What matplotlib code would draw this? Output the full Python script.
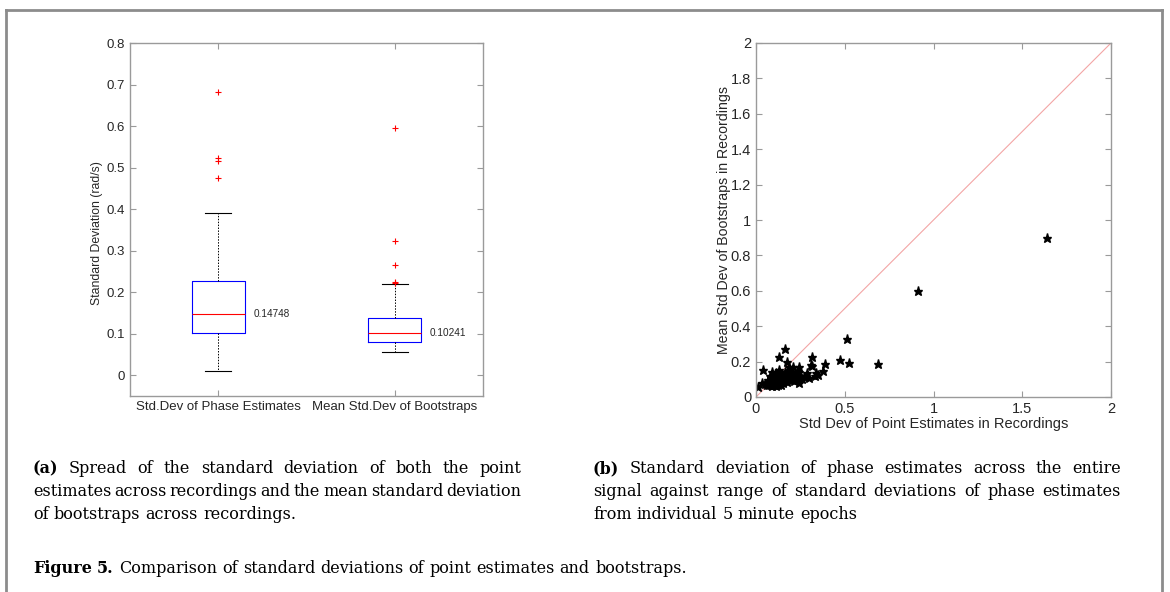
import matplotlib
matplotlib.use("Agg")
import matplotlib.pyplot as plt
import matplotlib.transforms as mtransforms

# ---- data ----
box_labels = ["Std.Dev of Phase Estimates", "Mean Std.Dev of Bootstraps"]
box_median = [0.14748, 0.10241]
box_q1 = [0.101, 0.081]
box_q3 = [0.228, 0.138]
box_whislo = [0.011, 0.055]
box_whishi = [0.390, 0.219]
box_fliers = [[0.683, 0.522, 0.515, 0.474],
              [0.595, 0.323, 0.265, 0.224, 0.221]]

scatter_x = [1.638, 0.911, 0.686, 0.524, 0.515, 0.473, 0.389, 0.376, 0.338, 0.332,
             0.314, 0.314, 0.289, 0.272, 0.240, 0.240, 0.240, 0.242, 0.208, 0.188,
             0.176, 0.163, 0.128, 0.041, 0.010, 0.032, 0.308, 0.350, 0.300, 0.260,
             0.050, 0.060, 0.065, 0.070, 0.075, 0.080, 0.082, 0.085, 0.088, 0.090,
             0.092, 0.095, 0.098, 0.100, 0.100, 0.102, 0.105, 0.108, 0.110, 0.112,
             0.115, 0.118, 0.120, 0.122, 0.125, 0.128, 0.130, 0.133, 0.135, 0.140,
             0.142, 0.145, 0.150, 0.152, 0.155, 0.160, 0.165, 0.170, 0.175, 0.180,
             0.185, 0.190, 0.195, 0.200, 0.205, 0.210, 0.215, 0.220, 0.225, 0.230,
             0.090, 0.105, 0.115, 0.125, 0.140, 0.150, 0.170, 0.195, 0.080, 0.110]
scatter_y = [0.900, 0.599, 0.185, 0.194, 0.326, 0.207, 0.185, 0.149, 0.134, 0.120,
             0.175, 0.224, 0.134, 0.115, 0.171, 0.140, 0.120, 0.077, 0.171, 0.171,
             0.200, 0.270, 0.224, 0.153, 0.058, 0.081, 0.180, 0.125, 0.110, 0.100,
             0.075, 0.070, 0.085, 0.095, 0.065, 0.080, 0.105, 0.070, 0.090, 0.060,
             0.120, 0.075, 0.085, 0.095, 0.065, 0.110, 0.080, 0.070, 0.135, 0.090,
             0.075, 0.100, 0.085, 0.065, 0.120, 0.095, 0.150, 0.080, 0.110, 0.090,
             0.070, 0.130, 0.100, 0.080, 0.115, 0.090, 0.140, 0.105, 0.085, 0.120,
             0.100, 0.150, 0.110, 0.095, 0.125, 0.105, 0.090, 0.115, 0.130, 0.100,
             0.140, 0.130, 0.095, 0.105, 0.120, 0.085, 0.125, 0.140, 0.120, 0.060]

caption_a = ["(a) Spread of the standard deviation of both the point",
             "estimates across recordings and the mean standard deviation",
             "of bootstraps across recordings."]
caption_b = ["(b) Standard deviation of phase estimates across the entire",
             "signal against range of standard deviations of phase estimates",
             "from individual 5 minute epochs"]
caption_fig = "Figure 5. Comparison of standard deviations of point estimates and bootstraps."

SANS = ["Liberation Sans", "DejaVu Sans"]
SERIF = ["DejaVu Serif"]
TXT = "#262626"
SPINE = "#9a9a9a"

fig = plt.figure(figsize=(11.7, 5.92), dpi=100)


def matlab_axes(ax, size):
    for s in ax.spines.values():
        s.set_color(SPINE)
        s.set_linewidth(1.0)
    ax.tick_params(direction="in", top=True, right=True, length=4,
                   color=SPINE, labelcolor=TXT, labelsize=size)
    for lab in ax.get_xticklabels() + ax.get_yticklabels():
        lab.set_family(SANS)


# ---- (a) boxplot ----
ax1 = fig.add_axes([130 / 1170, 1 - 396 / 592, 353 / 1170, 353 / 592])
stats = []
for i in range(2):
    stats.append(dict(med=box_median[i], q1=box_q1[i], q3=box_q3[i],
                      whislo=box_whislo[i], whishi=box_whishi[i],
                      fliers=box_fliers[i], label=box_labels[i]))
ax1.bxp(stats, positions=[1, 2], widths=0.3, showfliers=True,
        boxprops=dict(color="#0000ff", linewidth=0.8),
        medianprops=dict(color="#ff0000", linewidth=0.8),
        whiskerprops=dict(color="black", linewidth=0.7, linestyle=(0, (1.5, 1.5))),
        capprops=dict(color="black", linewidth=0.8),
        capwidths=0.15,
        flierprops=dict(marker="+", markeredgecolor="#ff0000", markersize=4,
                        markeredgewidth=0.8, linestyle="none"))
for i in range(2):
    ax1.text(i + 1.2, box_median[i], "%.5f" % box_median[i], fontsize=7.2,
             color=TXT, va="center", ha="left", family=SANS)
ax1.set_xlim(0.5, 2.5)
ax1.set_ylim(-0.05, 0.8)
ax1.set_yticks([0, 0.1, 0.2, 0.3, 0.4, 0.5, 0.6, 0.7, 0.8])
ax1.set_yticklabels(["0", "0.1", "0.2", "0.3", "0.4", "0.5", "0.6", "0.7", "0.8"])
ax1.set_ylabel("Standard Deviation (rad/s)", fontsize=8.8, color=TXT, family=SANS)
ax1.yaxis.set_label_coords((103 - 130) / 353, (396 - 233) / 353)
matlab_axes(ax1, 9.5)

# ---- (b) scatter ----
ax2 = fig.add_axes([756 / 1170, 1 - 397 / 592, 355 / 1170, 354 / 592])
ax2.plot([0, 2], [0, 2], color="#f3a5a5", linewidth=0.8)
ax2.plot(scatter_x, scatter_y, linestyle="none", marker="*", color="black",
         markersize=6.5)
ax2.set_xlim(0, 2)
ax2.set_ylim(0, 2)
ax2.set_xticks([0, 0.5, 1, 1.5, 2])
ax2.set_xticklabels(["0", "0.5", "1", "1.5", "2"])
ax2.set_yticks([0, 0.2, 0.4, 0.6, 0.8, 1, 1.2, 1.4, 1.6, 1.8, 2])
ax2.set_yticklabels(["0", "0.2", "0.4", "0.6", "0.8", "1", "1.2", "1.4",
                     "1.6", "1.8", "2"])
ax2.set_xlabel("Std Dev of Point Estimates in Recordings", fontsize=10.5,
               color=TXT, family=SANS, labelpad=1)
ax2.set_ylabel("Mean Std Dev of Bootstraps in Recordings", fontsize=10.2,
               color=TXT, family=SANS, labelpad=0)
matlab_axes(ax2, 10.5)

# ---- page frame ----
H = 592
frame = dict(color="#8c8c8c", linewidth=2, transform=None)
fig.add_artist(plt.Line2D([6, 6], [H - 10, -5], **frame))
fig.add_artist(plt.Line2D([6, 1162], [H - 10, H - 10], **frame))
fig.add_artist(plt.Line2D([1162, 1162], [H - 10, -5], **frame))

# ---- captions (justified by hand) ----
ident = mtransforms.IdentityTransform()
renderer = fig.canvas.get_renderer()
CAP_FS = 11.5


def put_line(x0, x1, y, line, justify, bold_n=0):
    words = line.split(" ")
    texts = []
    for k, w in enumerate(words):
        t = fig.text(0, H - y, w, fontsize=CAP_FS, family=SERIF, color="black",
                     fontweight="bold" if k < bold_n else "normal",
                     transform=ident, va="baseline", ha="left")
        texts.append(t)
    widths = [t.get_window_extent(renderer).width for t in texts]
    sp = fig.text(0, 0, "a a", fontsize=CAP_FS, family=SERIF, transform=ident)
    sp2 = fig.text(0, 0, "aa", fontsize=CAP_FS, family=SERIF, transform=ident)
    space = sp.get_window_extent(renderer).width - sp2.get_window_extent(renderer).width
    sp.remove()
    sp2.remove()
    if justify and len(words) > 1:
        gap = (x1 - x0 - sum(widths)) / (len(words) - 1)
    else:
        gap = space
    x = x0
    for t, w in zip(texts, widths):
        t.set_x(x)
        x += w + gap


for j, line in enumerate(caption_a):
    put_line(33, 521, 473 + j * 23, line, j < 2, bold_n=1 if j == 0 else 0)
for j, line in enumerate(caption_b):
    put_line(593, 1121, 473 + j * 23, line, j < 2, bold_n=1 if j == 0 else 0)
put_line(33, 0, 573, caption_fig, False, bold_n=2)

fig.savefig("out.png", dpi=100)
